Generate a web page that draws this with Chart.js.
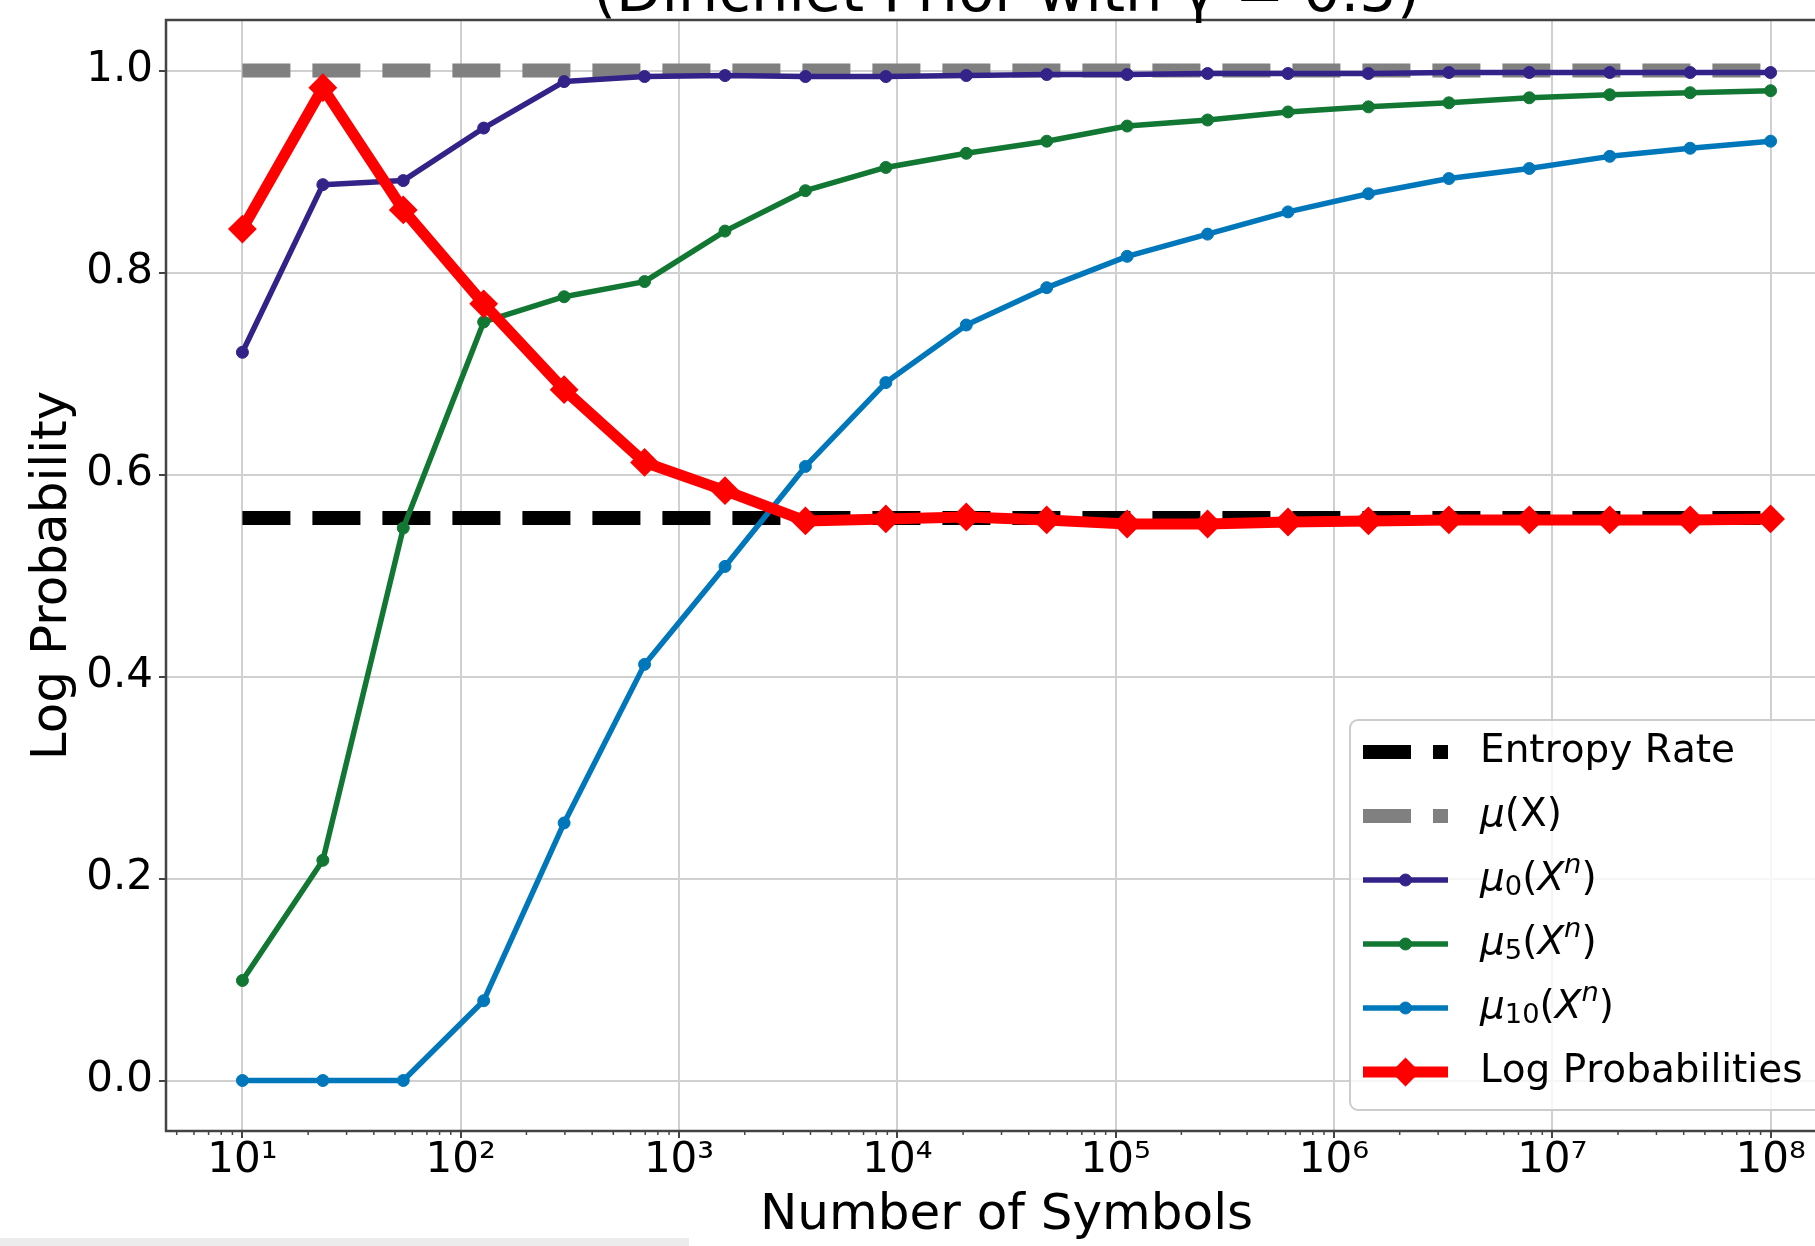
<!DOCTYPE html>
<html lang="en">
<head>
<meta charset="UTF-8">
<title>Log Probability vs Number of Symbols</title>
<script src="https://cdn.jsdelivr.net/npm/chart.js"></script>
<style>
  html, body { margin: 0; padding: 0; background: #fff; overflow: hidden; }
  #wrap { position: absolute; left: 0; top: 0; width: 1862px; height: 1246px; }
  #strip { position: absolute; left: 0; top: 1238px; width: 689px; height: 8px; background: #ececec; }
</style>
</head>
<body>
<div id="wrap"><canvas id="chart" width="1862" height="1246"></canvas></div>
<div id="strip"></div>
<script>
// number of symbols (log spaced, 20 points from 10 to 1e8)
const nSymbols = [10, 23.36, 54.56, 127.4, 297.6, 695.2, 1624, 3793, 8859, 20691,
  48329, 112884, 263665, 615848, 1438450, 3359818, 7847600, 18329807, 42813324, 100000000];

const mu0 = [0.721, 0.887, 0.891, 0.943, 0.989, 0.994, 0.995, 0.994, 0.994, 0.995,
  0.996, 0.996, 0.997, 0.997, 0.997, 0.998, 0.998, 0.998, 0.998, 0.998];
const mu5 = [0.099, 0.218, 0.547, 0.751, 0.776, 0.791, 0.841, 0.881, 0.904, 0.918,
  0.930, 0.945, 0.951, 0.959, 0.964, 0.968, 0.973, 0.976, 0.978, 0.980];
const mu10 = [0.0, 0.0, 0.0, 0.079, 0.255, 0.412, 0.509, 0.608, 0.691, 0.748,
  0.785, 0.816, 0.838, 0.860, 0.878, 0.893, 0.903, 0.915, 0.923, 0.930];
const logProb = [0.843, 0.983, 0.862, 0.769, 0.684, 0.612, 0.584, 0.554, 0.556, 0.558,
  0.555, 0.551, 0.551, 0.553, 0.554, 0.555, 0.555, 0.555, 0.555, 0.556];
const entropyRate = 0.557;
const muX = 1.0;

const xTicks = [1e1, 1e2, 1e3, 1e4, 1e5, 1e6, 1e7, 1e8];
const xTickLabels = ['10¹', '10²', '10³', '10⁴', '10⁵', '10⁶', '10⁷', '10⁸'];
const yTicks = [0, 0.2, 0.4, 0.6, 0.8, 1.0];
const yTickLabels = ['0.0', '0.2', '0.4', '0.6', '0.8', '1.0'];
const titleText = '(Dirichlet Prior with γ = 0.5)';

const FONT = '"DejaVu Sans", sans-serif';

const pts = ys => nSymbols.map((x, i) => ({ x: x, y: ys[i] }));
const flat = v => [{ x: nSymbols[0], y: v }, { x: nSymbols[nSymbols.length - 1], y: v }];

function lineSet(label, data, color, width, order, extra) {
    return Object.assign({
        label: label,
        data: data,
        borderColor: color,
        backgroundColor: color,
        pointBackgroundColor: color,
        pointBorderColor: color,
        borderWidth: width,
        borderCapStyle: 'butt',
        borderJoinStyle: 'round',
        tension: 0,
        order: order
    }, extra);
}

const datasets = [
    lineSet('Entropy Rate', flat(entropyRate), '#000000', 14, 6, { borderDash: [48, 22], pointRadius: 0 }),
    lineSet('μ(X)', flat(muX), '#808080', 14, 5, { borderDash: [48, 22], pointRadius: 0 }),
    lineSet('μ₀(Xⁿ)', pts(mu0), '#332288', 5.5, 4, { pointStyle: 'circle', pointRadius: 6, pointBorderWidth: 1 }),
    lineSet('μ₅(Xⁿ)', pts(mu5), '#117733', 5.5, 3, { pointStyle: 'circle', pointRadius: 6, pointBorderWidth: 1 }),
    lineSet('μ₁₀(Xⁿ)', pts(mu10), '#0077bb', 5.5, 2, { pointStyle: 'circle', pointRadius: 6, pointBorderWidth: 1 }),
    lineSet('Log Probabilities', pts(logProb), '#ff0000', 11, 1, { pointStyle: 'rectRot', pointRadius: 13, pointBorderWidth: 2 })
];

// label with sub/superscripts, drawn like matplotlib mathtext
function drawMathLabel(ctx, text, x, y, size) {
    const subs = '₀₁₂₃₄₅₆₇₈₉';
    const math = text.indexOf('ⁿ') >= 0;
    let cx = x;
    for (const ch of text) {
        let c = ch, dy = 0, font = size + 'px ' + FONT;
        const si = subs.indexOf(ch);
        if (si >= 0) {
            c = String(si); font = (size * 0.7) + 'px ' + FONT; dy = size * 0.2;
        } else if (ch === 'ⁿ') {
            c = 'n'; font = 'italic ' + (size * 0.7) + 'px ' + FONT; dy = -size * 0.36;
        } else if (ch === 'μ' || (ch === 'X' && math)) {
            font = 'italic ' + size + 'px ' + FONT;
        }
        ctx.font = font;
        ctx.fillText(c, cx, y + dy);
        cx += ctx.measureText(c).width;
    }
}

const decorations = {
    id: 'decorations',
    afterDatasetsDraw(chart) {
        const ctx = chart.ctx, ca = chart.chartArea, xs = chart.scales.x;
        ctx.save();
        // minor ticks on the log axis
        ctx.strokeStyle = '#444';
        ctx.lineWidth = 1.5;
        for (let d = 0; d <= 8; d++) {
            for (let m = 2; m <= 9; m++) {
                const v = m * Math.pow(10, d);
                if (v < xs.min || v > xs.max) continue;
                const px = xs.getPixelForValue(v);
                ctx.beginPath();
                ctx.moveTo(px, ca.bottom);
                ctx.lineTo(px, ca.bottom + 4);
                ctx.stroke();
            }
        }
        // axes frame
        ctx.strokeStyle = '#444';
        ctx.lineWidth = 2.5;
        ctx.strokeRect(ca.left, ca.top, ca.right - ca.left, ca.bottom - ca.top);
        ctx.restore();
    },
    afterDraw(chart) {
        const ctx = chart.ctx, ca = chart.chartArea;
        ctx.save();
        // title (cut off at the top)
        ctx.fillStyle = '#000';
        ctx.font = '59px ' + FONT;
        ctx.textAlign = 'center';
        ctx.textBaseline = 'alphabetic';
        ctx.fillText(titleText, (ca.left + ca.right) / 2, 11);

        // legend (runs past the right edge of the picture)
        const x0 = 1350, y0 = 720, x1 = 1850, y1 = 1110;
        ctx.beginPath();
        ctx.roundRect(x0, y0, x1 - x0, y1 - y0, 8);
        ctx.fillStyle = 'rgba(255,255,255,0.8)';
        ctx.fill();
        ctx.strokeStyle = '#cccccc';
        ctx.lineWidth = 2;
        ctx.stroke();

        ctx.textAlign = 'left';
        ctx.textBaseline = 'middle';
        chart.data.datasets.forEach((ds, i) => {
            const y = 752 + i * 64;
            ctx.beginPath();
            ctx.setLineDash(ds.borderDash || []);
            ctx.lineCap = 'butt';
            ctx.strokeStyle = ds.borderColor;
            ctx.lineWidth = ds.borderWidth;
            ctx.moveTo(1363, y);
            ctx.lineTo(1448, y);
            ctx.stroke();
            ctx.setLineDash([]);
            if (ds.pointRadius > 0) {
                const r = ds.pointRadius, mx = 1405.5;
                ctx.beginPath();
                if (ds.pointStyle === 'rectRot') {
                    ctx.moveTo(mx - r, y); ctx.lineTo(mx, y - r);
                    ctx.lineTo(mx + r, y); ctx.lineTo(mx, y + r);
                    ctx.closePath();
                } else {
                    ctx.arc(mx, y, r, 0, Math.PI * 2);
                }
                ctx.fillStyle = ds.borderColor;
                ctx.fill();
                ctx.lineWidth = ds.pointBorderWidth;
                ctx.stroke();
            }
            ctx.fillStyle = '#000';
            drawMathLabel(ctx, ds.label, 1480, y, 39);
        });
        ctx.restore();
    }
};

new Chart(document.getElementById('chart'), {
    type: 'line',
    data: { datasets: datasets },
    plugins: [decorations],
    options: {
        responsive: false,
        animation: false,
        devicePixelRatio: 1,
        layout: { padding: { top: 20, left: 0, right: 0, bottom: 0 } },
        plugins: {
            legend: { display: false },
            tooltip: { enabled: false },
            title: { display: false }
        },
        scales: {
            x: {
                type: 'logarithmic',
                min: Math.pow(10, 0.65),
                max: Math.pow(10, 8.35),
                afterBuildTicks: s => { s.ticks = xTicks.map(v => ({ value: v })); },
                afterFit: s => { s.height = 115; s.paddingLeft = 0; s.paddingRight = 0; },
                border: { display: false },
                grid: { color: '#d0d0d0', lineWidth: 2, tickColor: '#444', tickLength: 7, tickWidth: 2 },
                ticks: {
                    autoSkip: false,
                    maxRotation: 0,
                    padding: 2,
                    color: '#000',
                    font: { family: FONT, size: 42, lineHeight: 1 },
                    callback: (v, i) => xTickLabels[i]
                },
                title: {
                    display: true,
                    text: 'Number of Symbols',
                    color: '#000',
                    font: { family: FONT, size: 50, lineHeight: 1.2 },
                    padding: { top: 0, bottom: 0 }
                }
            },
            y: {
                min: -0.05,
                max: 1.05,
                afterBuildTicks: s => { s.ticks = yTicks.map(v => ({ value: v })); },
                afterFit: s => { s.width = 166; s.paddingTop = 0; s.paddingBottom = 0; },
                border: { display: false },
                grid: { color: '#d0d0d0', lineWidth: 2, tickColor: '#444', tickLength: 7, tickWidth: 2 },
                ticks: {
                    padding: 6,
                    color: '#000',
                    font: { family: FONT, size: 42, lineHeight: 1 },
                    callback: (v, i) => yTickLabels[i]
                },
                title: {
                    display: true,
                    text: 'Log Probability',
                    color: '#000',
                    font: { family: FONT, size: 50, lineHeight: 1.2 },
                    padding: { top: 23, bottom: 0 }
                }
            }
        }
    }
});
</script>
</body>
</html>
